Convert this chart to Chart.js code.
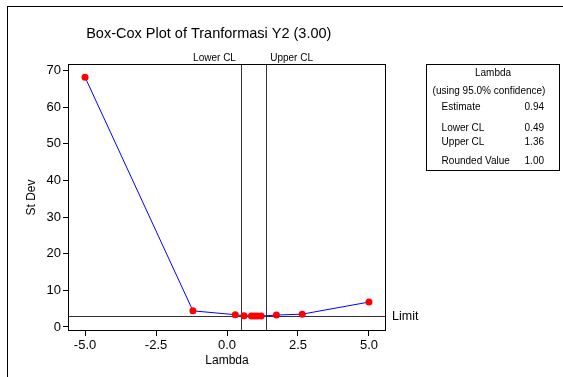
<!DOCTYPE html>
<html><head><meta charset="utf-8">
<script src="https://cdn.jsdelivr.net/npm/chart.js@4/dist/chart.umd.min.js"></script>
<style>html,body{margin:0;padding:0;background:#fff;}canvas{display:block;}</style>
</head><body>
<canvas id="c" width="563" height="377"></canvas>
<script>
const chartTitle = "Box-Cox Plot of Tranformasi Y2 (3.00)";
const xTitle = "Lambda";
const yTitle = "St Dev";
const lambdas = [-5.0, -1.2, 0.29, 0.60, 0.86, 0.97, 1.07, 1.20, 1.74, 2.65, 5.0];
const stdevs  = [68.2, 4.4, 3.35, 3.05, 3.0, 2.97, 2.97, 2.97, 3.25, 3.5, 6.8];
const xTicks = [-5, -2.5, 0, 2.5, 5];
const yTicks = [0, 10, 20, 30, 40, 50, 60, 70];
const lowerCL = 0.49;
const upperCL = 1.36;
const limitValue = 2.93;
const refLabels = ["Lower CL", "Upper CL", "Limit"];
const legendTitle = ["Lambda", "(using 95.0% confidence)"];
const legendLabels = ["Estimate", "Lower CL", "Upper CL", "Rounded Value"];
const legendValues = ["0.94", "0.49", "1.36", "1.00"];

const FONT = 'Arial, "Liberation Sans", sans-serif';
Chart.defaults.font.family = FONT;
Chart.defaults.color = '#000';

const deco = {
  id: 'deco',
  beforeDatasetsDraw(chart) {
    const {ctx, chartArea: a, scales: {x, y}} = chart;
    ctx.save();
    ctx.lineWidth = 1;
    ctx.strokeStyle = '#333';
    const lx = Math.round(x.getPixelForValue(lowerCL)) + 0.5;
    const ux = Math.round(x.getPixelForValue(upperCL)) + 0.5;
    const ly = Math.round(y.getPixelForValue(limitValue)) + 0.5;
    ctx.beginPath();
    ctx.moveTo(lx, a.top); ctx.lineTo(lx, a.bottom);
    ctx.moveTo(ux, a.top); ctx.lineTo(ux, a.bottom);
    ctx.moveTo(a.left, ly); ctx.lineTo(a.right, ly);
    ctx.stroke();
    ctx.restore();
  },
  afterDraw(chart) {
    const {ctx, chartArea: a, scales: {x, y}} = chart;
    ctx.save();
    ctx.lineWidth = 1;
    ctx.strokeStyle = '#000';
    // outer frame
    ctx.strokeRect(7.5, 6.5, 700, 500);
    // plot frame
    ctx.strokeRect(Math.round(a.left) + 0.5, Math.round(a.top) + 0.5,
                   Math.round(a.right - a.left) - 1, Math.round(a.bottom - a.top) - 1);
    ctx.fillStyle = '#000';
    ctx.textBaseline = 'middle';
    // title
    ctx.font = '14.5px ' + FONT;
    ctx.textAlign = 'center';
    ctx.fillText(chartTitle, 208.8, 34);
    // reference labels
    const lx = x.getPixelForValue(lowerCL);
    const ux = x.getPixelForValue(upperCL);
    const ly = y.getPixelForValue(limitValue);
    ctx.font = '10px ' + FONT;
    ctx.textAlign = 'right';
    ctx.fillText(refLabels[0], lx - 5, 58.3);
    ctx.textAlign = 'left';
    ctx.fillText(refLabels[1], ux + 4.6, 58.3);
    ctx.font = '12.5px ' + FONT;
    ctx.fillText(refLabels[2], 392, ly);
    // legend box
    ctx.strokeRect(426.5, 64.5, 133, 106);
    ctx.font = '10px ' + FONT;
    ctx.textAlign = 'center';
    ctx.fillText(legendTitle[0], 493, 73.5);
    ctx.fillText(legendTitle[1], 489, 91);
    const rowY = [107.5, 128.5, 142, 161.5];
    legendLabels.forEach((t, i) => {
      ctx.textAlign = 'left';
      ctx.fillText(t, 441.6, rowY[i]);
      ctx.textAlign = 'right';
      ctx.fillText(legendValues[i], 544, rowY[i]);
    });
    ctx.restore();
  }
};

new Chart(document.getElementById('c'), {
  type: 'scatter',
  data: {
    datasets: [{
      data: lambdas.map((v, i) => ({x: v, y: stdevs[i]})),
      showLine: true,
      borderColor: '#0000ff',
      borderWidth: 1,
      pointRadius: 3.5,
      pointHoverRadius: 3.5,
      pointBackgroundColor: '#ff0000',
      pointBorderColor: '#ff0000',
      pointBorderWidth: 0
    }]
  },
  options: {
    responsive: false,
    animation: false,
    devicePixelRatio: 1,
    layout: {padding: {top: 64, right: 177, left: 0, bottom: 0}},
    plugins: {legend: {display: false}, title: {display: false}, tooltip: {enabled: false}},
    scales: {
      x: {
        type: 'linear', min: -5.6, max: 5.6,
        afterBuildTicks: s => { s.ticks = xTicks.map(v => ({value: v})); },
        afterFit: s => { s.height = 46; },
        ticks: {callback: v => Number(v).toFixed(1), color: '#000', font: {size: 13}, padding: 2, maxRotation: 0, autoSkip: false},
        grid: {drawOnChartArea: false, drawTicks: true, tickLength: 5, color: '#000'},
        border: {display: false},
        title: {display: true, text: xTitle, color: '#000', font: {size: 12}, padding: {top: 0, bottom: 9}}
      },
      y: {
        type: 'linear', min: -1.1, max: 71.8,
        afterBuildTicks: s => { s.ticks = yTicks.map(v => ({value: v})); },
        afterFit: s => { s.width = 68; },
        ticks: {callback: v => String(v), color: '#000', font: {size: 13}, padding: 2, autoSkip: false},
        grid: {drawOnChartArea: false, drawTicks: true, tickLength: 5, color: '#000'},
        border: {display: false},
        title: {display: true, text: yTitle, color: '#000', font: {size: 12}, padding: {top: 24.5, bottom: 0}}
      }
    }
  },
  plugins: [deco]
});
</script>
</body></html>
